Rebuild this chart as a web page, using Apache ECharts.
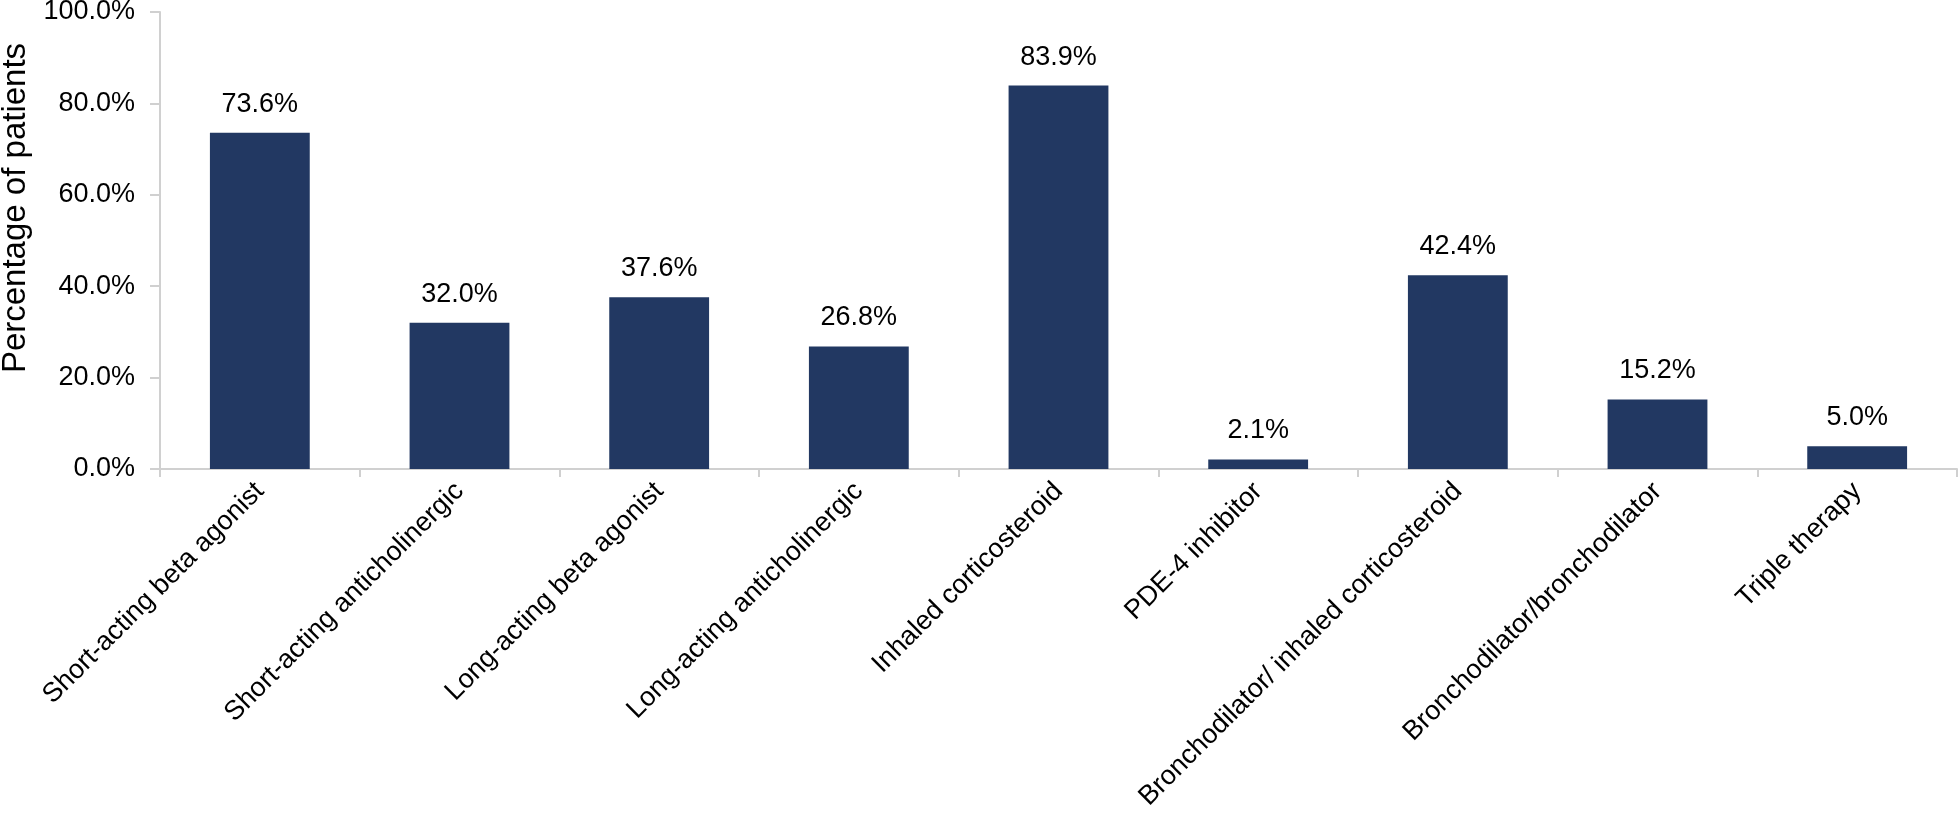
<!DOCTYPE html>
<html>
<head>
<meta charset="utf-8">
<script src="https://cdn.jsdelivr.net/npm/echarts@6/dist/echarts.min.js"></script>
<style>html,body{margin:0;padding:0;background:#fff}#chart{width:1960px;height:820px}</style>
</head>
<body>
<div id="chart"></div>
<script>
const categories = [
  'Short-acting beta agonist',
  'Short-acting anticholinergic',
  'Long-acting beta agonist',
  'Long-acting anticholinergic',
  'Inhaled corticosteroid',
  'PDE-4 inhibitor',
  'Bronchodilator/ inhaled corticosteroid',
  'Bronchodilator/bronchodilator',
  'Triple therapy'
];
const percentages = [73.6, 32.0, 37.6, 26.8, 83.9, 2.1, 42.4, 15.2, 5.0];
const yAxisTitle = 'Percentage of patients';

const font = 'Liberation Sans, Arial, sans-serif';
const axisGray = '#d0d0d0';
const chart = echarts.init(document.getElementById('chart'), null, {renderer: 'canvas'});
chart.setOption({
  animation: false,
  backgroundColor: '#ffffff',
  grid: {left: 160, right: 3, top: 12, bottom: 351, containLabel: false, outerBoundsMode: 'none'},
  xAxis: {
    type: 'category',
    data: categories,
    axisLine: {show: true, lineStyle: {color: axisGray, width: 2}},
    axisTick: {show: true, length: 8, lineStyle: {color: axisGray, width: 2}},
    axisLabel: {rotate: 45, interval: 0, margin: 18, color: '#000', fontSize: 27, fontFamily: font}
  },
  yAxis: {
    type: 'value',
    min: 0, max: 100, interval: 20,
    name: yAxisTitle,
    nameLocation: 'middle',
    nameRotate: 90,
    nameGap: 124,
    nameTextStyle: {color: '#000', fontSize: 33, fontFamily: font, padding: [0, 0, 0, 65]},
    axisLine: {show: true, lineStyle: {color: axisGray, width: 2}},
    axisTick: {show: true, length: 10, lineStyle: {color: axisGray, width: 2}},
    splitLine: {show: false},
    axisLabel: {
      color: '#000', fontSize: 27, fontFamily: font, margin: 25,
      formatter: v => v.toFixed(1) + '%'
    }
  },
  series: [{
    type: 'bar',
    data: percentages,
    barWidth: '50%',
    itemStyle: {color: '#223862'},
    label: {
      show: true, position: 'top', distance: 15,
      color: '#000', fontSize: 27, fontFamily: font,
      formatter: p => p.value.toFixed(1) + '%'
    }
  }]
});
</script>
</body>
</html>
